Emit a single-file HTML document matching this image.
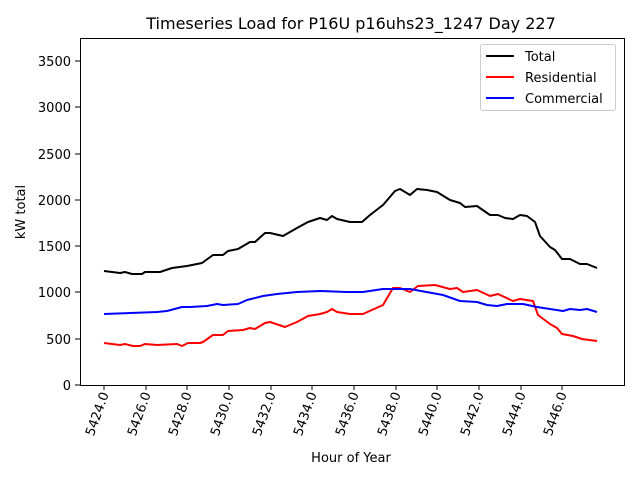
<!DOCTYPE html>
<html><head><meta charset="utf-8"><style>body{margin:0;background:#fff}svg{display:block}text{font-family:"DejaVu Sans","Liberation Sans",sans-serif;fill:#000}</style></head>
<body>
<svg width="640" height="480" viewBox="0 0 640 480">
<rect x="0" y="0" width="640" height="480" fill="#fff"/>
<text x="351" y="29" font-size="16" text-anchor="middle">Timeseries Load for P16U p16uhs23_1247  Day 227</text>
<g stroke="#000" stroke-width="1">
<line x1="75" y1="385" x2="80" y2="385"/><line x1="75" y1="339" x2="80" y2="339"/><line x1="75" y1="292" x2="80" y2="292"/><line x1="75" y1="246" x2="80" y2="246"/><line x1="75" y1="200" x2="80" y2="200"/><line x1="75" y1="154" x2="80" y2="154"/><line x1="75" y1="107" x2="80" y2="107"/><line x1="75" y1="61" x2="80" y2="61"/>
<line x1="104" y1="385" x2="104" y2="390"/><line x1="146" y1="385" x2="146" y2="390"/><line x1="187" y1="385" x2="187" y2="390"/><line x1="229" y1="385" x2="229" y2="390"/><line x1="271" y1="385" x2="271" y2="390"/><line x1="312" y1="385" x2="312" y2="390"/><line x1="354" y1="385" x2="354" y2="390"/><line x1="396" y1="385" x2="396" y2="390"/><line x1="437" y1="385" x2="437" y2="390"/><line x1="479" y1="385" x2="479" y2="390"/><line x1="521" y1="385" x2="521" y2="390"/><line x1="562" y1="385" x2="562" y2="390"/>
</g>
<g font-size="13" text-anchor="end">
<text x="71" y="390">0</text><text x="71" y="344">500</text><text x="71" y="297">1000</text><text x="71" y="251">1500</text><text x="71" y="205">2000</text><text x="71" y="159">2500</text><text x="71" y="112">3000</text><text x="71" y="66">3500</text>
</g>
<g font-size="13" text-anchor="end">
<text transform="translate(109,394) rotate(-70)">5424.0</text>
<text transform="translate(151,394) rotate(-70)">5426.0</text>
<text transform="translate(192,394) rotate(-70)">5428.0</text>
<text transform="translate(234,394) rotate(-70)">5430.0</text>
<text transform="translate(276,394) rotate(-70)">5432.0</text>
<text transform="translate(317,394) rotate(-70)">5434.0</text>
<text transform="translate(359,394) rotate(-70)">5436.0</text>
<text transform="translate(401,394) rotate(-70)">5438.0</text>
<text transform="translate(442,394) rotate(-70)">5440.0</text>
<text transform="translate(484,394) rotate(-70)">5442.0</text>
<text transform="translate(526,394) rotate(-70)">5444.0</text>
<text transform="translate(567,394) rotate(-70)">5446.0</text>
</g>
<text x="351" y="462" font-size="13" text-anchor="middle">Hour of Year</text>
<text transform="translate(25,212) rotate(-90)" font-size="13" text-anchor="middle">kW total</text>
<g fill="none" stroke-width="2" stroke-linejoin="round">
<polyline stroke="#000" points="104,271 120,273 125,272 132,274 142,274 145,272 160,272 172,268 187,266 202,263 213,255 223,255 228,251 238,249 250,242 255,242 265,233 270,233 283,236 297,228 308,222 320,218 327,220 332,216 337,219 350,222 362,222 370,215 383,205 395,191 400,189 410,195 417,189 427,190 437,192 450,200 460,203 465,207 477,206 490,215 498,215 505,218 513,219 520,215 527,216 535,222 540,236 550,247 555,250 562,259 570,259 580,264 587,264 597,268"/>
<polyline stroke="#f00" points="104,343 120,345 125,344 133,346 140,346 145,344 157,345 177,344 182,346 188,343 200,343 203,342 213,335 223,335 228,331 243,330 250,328 255,329 265,323 270,322 285,327 297,322 308,316 320,314 327,312 332,309 337,312 350,314 363,314 383,305 393,288 400,288 410,292 418,286 435,285 450,289 457,288 463,292 477,290 490,296 498,294 513,301 520,299 533,301 538,315 550,324 557,328 562,334 573,336 582,339 597,341"/>
<polyline stroke="#00f" points="104,314 157,312 167,311 182,307 190,307 207,306 217,304 223,305 238,304 247,300 263,296 277,294 297,292 320,291 347,292 363,292 383,289 410,289 443,295 460,301 477,302 487,305 497,306 507,304 523,304 537,307 550,309 563,311 570,309 580,310 587,309 597,312"/>
</g>
<rect x="80.5" y="38.5" width="544" height="347" fill="none" stroke="#000" stroke-width="1"/>
<rect x="480.5" y="44.5" width="135" height="66" rx="2" fill="#fff" stroke="#ccc" stroke-width="1"/>
<g stroke-width="2"><line x1="486" y1="56" x2="514" y2="56" stroke="#000"/><line x1="486" y1="77" x2="514" y2="77" stroke="#f00"/><line x1="486" y1="98" x2="514" y2="98" stroke="#00f"/></g>
<g font-size="13"><text x="525" y="61">Total</text><text x="525" y="82">Residential</text><text x="525" y="103">Commercial</text></g>
</svg>
</body></html>
